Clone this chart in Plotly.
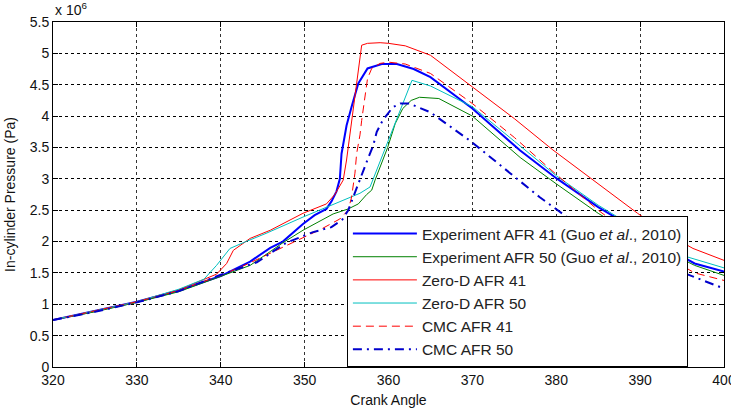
import plotly.graph_objects as go

# Crank angle (deg) and in-cylinder pressure (x 10^6 Pa)
exp41_x = [320, 325, 330, 335, 340, 341.5, 343.5, 345.9, 347.4, 349.8, 351.2, 352.6, 353.2, 353.8, 354.2, 354.4, 355, 355.6, 356.4, 357.5, 359.2, 361, 363, 365, 370, 375.7, 380, 385, 387.6, 390, 396.5, 400]
exp41_y = [0.75, 0.89, 1.04, 1.22, 1.45, 1.55, 1.68, 1.9, 2.0, 2.28, 2.42, 2.52, 2.64, 2.8, 3.0, 3.4, 3.85, 4.15, 4.52, 4.76, 4.83, 4.83, 4.75, 4.62, 4.12, 3.45, 3.01, 2.55, 2.34, 2.13, 1.65, 1.52]

exp50_x = [320, 325, 330, 335, 339.9, 343.5, 345.9, 347.4, 349.8, 351.4, 353.4, 355.2, 356.4, 357.4, 358, 358.4, 359.9, 360.8, 361.7, 362.7, 363.7, 366, 370, 375.7, 380, 385, 390, 396.5, 400]
exp50_y = [0.75, 0.88, 1.03, 1.2, 1.44, 1.62, 1.84, 1.98, 2.18, 2.3, 2.44, 2.52, 2.6, 2.75, 2.82, 2.98, 3.5, 3.88, 4.12, 4.25, 4.3, 4.28, 4.0, 3.34, 2.92, 2.45, 2.05, 1.62, 1.46]

zd41_x = [320, 325, 330, 335, 339.5, 340.7, 341.5, 343.5, 345.9, 349.8, 352.6, 353.6, 354.6, 355, 355.6, 356, 356.6, 356.8, 357.5, 359, 360, 362, 365, 370, 375, 379.6, 385, 389.7, 393, 396.3, 400]
zd41_y = [0.75, 0.89, 1.04, 1.23, 1.48, 1.65, 1.86, 2.05, 2.18, 2.45, 2.6, 2.75, 2.98, 3.3, 3.93, 4.3, 5.0, 5.13, 5.16, 5.17, 5.16, 5.12, 4.97, 4.46, 3.96, 3.46, 2.92, 2.45, 2.14, 1.89, 1.7]

zd50_x = [320, 325, 330, 335, 338, 339.5, 341.1, 343, 345.4, 349.8, 353.8, 356.6, 357.8, 362.8, 365, 370, 375, 380, 385, 390, 395, 400]
zd50_y = [0.75, 0.89, 1.04, 1.24, 1.4, 1.62, 1.89, 2.0, 2.13, 2.39, 2.61, 2.77, 2.87, 4.57, 4.48, 4.15, 3.6, 3.05, 2.58, 2.17, 1.78, 1.58]

cmc41_x = [320, 325, 330, 335, 340, 343, 346, 349.8, 352, 354.2, 355.2, 355.6, 355.8, 356, 356.2, 356.6, 356.8, 357.2, 357.5, 358, 359, 360, 362, 365, 370, 375, 380, 385, 390, 396.5, 400]
cmc41_y = [0.75, 0.89, 1.04, 1.22, 1.46, 1.63, 1.82, 2.07, 2.2, 2.36, 2.5, 2.71, 2.9, 3.09, 3.4, 3.7, 3.93, 4.28, 4.6, 4.76, 4.84, 4.86, 4.83, 4.68, 4.2, 3.66, 3.07, 2.5, 2.0, 1.5, 1.38]

cmc50_x = [320, 325, 330, 335, 340, 341.9, 344.3, 347.8, 351, 353.2, 354.5, 355.2, 356, 356.8, 357.4, 358.2, 358.6, 359.3, 360.5, 361.4, 362.5, 365, 369.7, 374.5, 378, 381.3, 385, 390, 396.7, 400]
cmc50_y = [0.75, 0.88, 1.03, 1.21, 1.47, 1.56, 1.67, 1.98, 2.15, 2.23, 2.35, 2.5, 2.79, 3.06, 3.27, 3.54, 3.75, 3.93, 4.14, 4.2, 4.2, 4.06, 3.61, 3.09, 2.71, 2.39, 2.07, 1.77, 1.42, 1.25]

x_ticks = [320, 330, 340, 350, 360, 370, 380, 390, 400]
y_ticks = [0, 0.5, 1, 1.5, 2, 2.5, 3, 3.5, 4, 4.5, 5, 5.5]
y_tick_text = ["0", "0.5", "1", "1.5", "2", "2.5", "3", "3.5", "4", "4.5", "5", "5.5"]

FONT = "Arial, 'Liberation Sans', sans-serif"

fig = go.Figure()
fig.add_trace(go.Scatter(x=exp41_x, y=exp41_y, mode="lines",
                         name="Experiment AFR 41 (Guo <i>et al</i>., 2010)",
                         line=dict(color="#0000ff", width=2)))
fig.add_trace(go.Scatter(x=exp50_x, y=exp50_y, mode="lines",
                         name="Experiment AFR 50 (Guo <i>et al</i>., 2010)",
                         line=dict(color="#008000", width=1)))
fig.add_trace(go.Scatter(x=zd41_x, y=zd41_y, mode="lines", name="Zero-D AFR 41",
                         line=dict(color="#ff0000", width=1)))
fig.add_trace(go.Scatter(x=zd50_x, y=zd50_y, mode="lines", name="Zero-D AFR 50",
                         line=dict(color="#00bfbf", width=1)))
fig.add_trace(go.Scatter(x=cmc41_x, y=cmc41_y, mode="lines", name="CMC AFR 41",
                         line=dict(color="#ff0000", width=1, dash="8px,5px")))
fig.add_trace(go.Scatter(x=cmc50_x, y=cmc50_y, mode="lines", name="CMC AFR 50",
                         line=dict(color="#0000cc", width=2, dash="9px,5px,2px,5px")))

fig.update_layout(
    width=731, height=408,
    margin=dict(l=53, r=7, t=22, b=41),
    paper_bgcolor="white", plot_bgcolor="white",
    font=dict(family=FONT, size=14, color="#111"),
    showlegend=True,
    legend=dict(x=0.438, y=0, xanchor="left", yanchor="bottom",
                bgcolor="white", bordercolor="black", borderwidth=1,
                font=dict(family=FONT, size=15.5, color="#222"),
                itemwidth=64, tracegroupgap=0),
    xaxis=dict(range=[320, 400], tickvals=x_ticks, ticks="inside", ticklen=5,
               tickcolor="black", showline=True, linecolor="black", linewidth=1,
               mirror="ticks", showgrid=True, gridcolor="#333", gridwidth=1,
               griddash="3px,3px", zeroline=False, ticklabeloverflow="allow",
               automargin=False,
               title=dict(text="Crank Angle", font=dict(size=14), standoff=13)),
    yaxis=dict(range=[0, 5.5], tickvals=y_ticks, ticktext=y_tick_text, ticks="inside",
               ticklen=5, tickcolor="black", showline=True, linecolor="black",
               linewidth=1, mirror="ticks", showgrid=True, gridcolor="black",
               gridwidth=1, griddash="3px,3px", zeroline=False, automargin=False,
               title=dict(text="In-cylinder Pressure (Pa)", font=dict(size=14), standoff=10)),
    annotations=[dict(text="x 10<sup>6</sup>", xref="paper", yref="paper", x=0, y=1,
                      xanchor="left", yanchor="bottom", showarrow=False, yshift=2,
                      font=dict(size=14, family=FONT))],
)

fig.write_html("out.html")
